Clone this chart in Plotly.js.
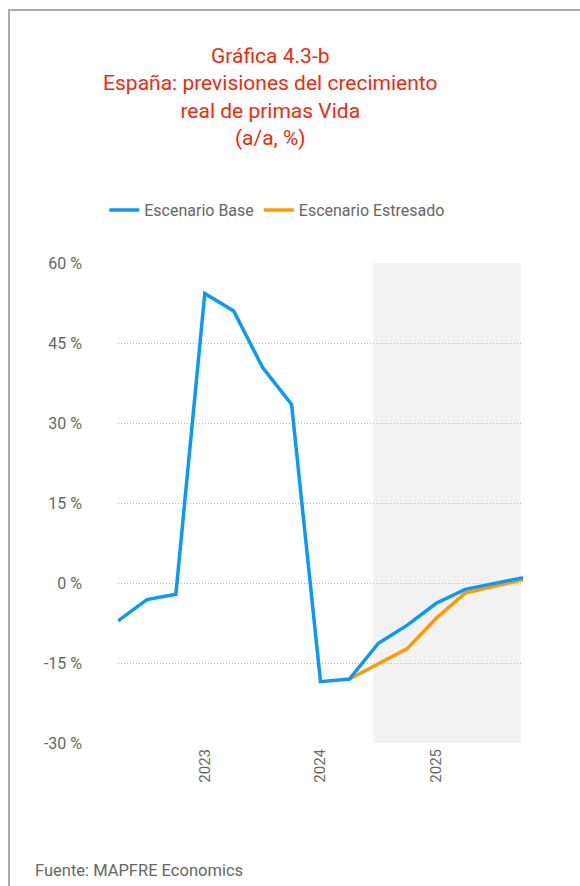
<!DOCTYPE html>
<html>
<head>
<meta charset="utf-8">
<script src="https://cdn.plot.ly/plotly-3.0.1.min.js"></script>
<style>
  html, body { margin: 0; padding: 0; background: #fff; }
  #wrap { position: relative; width: 580px; height: 886px; }
  #chart { position: absolute; left: 0; top: 0; width: 580px; height: 886px; }
  #frame { position: absolute; left: 8px; top: 9px; width: 600px; height: 900px;
           border-left: 2px solid #ababab; border-top: 2px solid #ababab; pointer-events: none; }
</style>
</head>
<body>
<div id="wrap">
  <div id="chart"></div>
  <div id="frame"></div>
</div>
<script>
// Quarters (2022 T2 .. 2025 T4)
const quarters = ['2022-T2','2022-T3','2022-T4','2023-T1','2023-T2','2023-T3','2023-T4',
                  '2024-T1','2024-T2','2024-T3','2024-T4','2025-T1','2025-T2','2025-T3','2025-T4'];
const baseScenario = [-7.1, -3.1, -2.1, 54.3, 51.0, 40.4, 33.5, -18.5, -18.0, -11.3, -7.9, -3.8, -1.2, -0.1, 1.0];
const stressQuarters = ['2024-T2','2024-T3','2024-T4','2025-T1','2025-T2','2025-T3','2025-T4'];
const stressScenario = [-18.0, -15.1, -12.3, -6.6, -1.9, -0.6, 0.6];
const yearTickVals = ['2023-T1','2024-T1','2025-T1'];
const yearTickText = ['2023','2024','2025'];
const yTickVals = [-30, -15, 0, 15, 30, 45, 60];
const yTickText = ['-30 %','-15 %','0 %','15 %','30 %','45 %','60 %'];
const forecastStart = '2024-T3';

const FONT = 'Roboto, "Noto Sans", sans-serif';
const GRAY = '#666666';

const traces = [
  {
    x: stressQuarters, y: stressScenario, type: 'scatter', mode: 'lines',
    name: 'Escenario Estresado', legendrank: 2,
    line: { color: '#ff9900', width: 3.5 }, hoverinfo: 'skip'
  },
  {
    x: quarters, y: baseScenario, type: 'scatter', mode: 'lines',
    name: 'Escenario Base', legendrank: 1,
    line: { color: '#0a9af5', width: 3.5 }, hoverinfo: 'skip'
  }
];

const startIdx = quarters.indexOf(forecastStart);

const layout = {
  width: 580, height: 886,
  margin: { l: 118, r: 57, t: 263, b: 143 },
  paper_bgcolor: '#ffffff', plot_bgcolor: '#ffffff',
  font: { family: FONT, color: GRAY, size: 15 },
  title: {
    text: 'Gráfica 4.3-b<br>España: previsiones del crecimiento<br>real de primas Vida<br>(a/a, %)',
    font: { family: FONT, size: 21, color: '#f2290c', weight: 'normal' },
    xref: 'container', x: 0.466, xanchor: 'center',
    yref: 'container', y: 1 - 63/886, yanchor: 'top'
  },
  showlegend: true,
  legend: {
    orientation: 'h', xref: 'container', x: 0.478, xanchor: 'center',
    yref: 'container', y: 1 - 193/886, yanchor: 'top',
    font: { family: FONT, size: 16, color: GRAY },
    traceorder: 'normal', itemwidth: 30
  },
  xaxis: {
    type: 'category', categoryorder: 'array', categoryarray: quarters,
    range: [0, quarters.length - 1],
    tickmode: 'array', tickvals: yearTickVals, ticktext: yearTickText,
    tickangle: -90, ticks: '', showgrid: false, zeroline: false, showline: false,
    ticklabelstandoff: 2,
    tickfont: { family: FONT, size: 15, color: GRAY }
  },
  yaxis: {
    range: [-30, 60], tickmode: 'array', tickvals: yTickVals, ticktext: yTickText,
    showgrid: true, gridcolor: '#b8b8b8', gridwidth: 1, griddash: '1px,2px',
    zeroline: false, showline: false, ticks: '', ticklabelstandoff: 35,
    tickfont: { family: FONT, size: 16, color: GRAY }
  },
  shapes: [
    {
      type: 'rect', layer: 'below', xref: 'x', yref: 'paper',
      x0: startIdx - 0.18, x1: quarters.length - 1.08, y0: 0, y1: 1,
      fillcolor: '#f2f2f2', line: { width: 0 }
    }
  ],
  annotations: [
    {
      text: 'Fuente: MAPFRE Economics', xref: 'paper', yref: 'paper',
      x: (33 - 118) / 405, xanchor: 'left', y: -(870 - 743) / 480, yanchor: 'middle',
      showarrow: false, font: { family: FONT, size: 16.5, color: GRAY }
    }
  ]
};

Plotly.newPlot('chart', traces, layout, { displayModeBar: false, staticPlot: true });
</script>
</body>
</html>
